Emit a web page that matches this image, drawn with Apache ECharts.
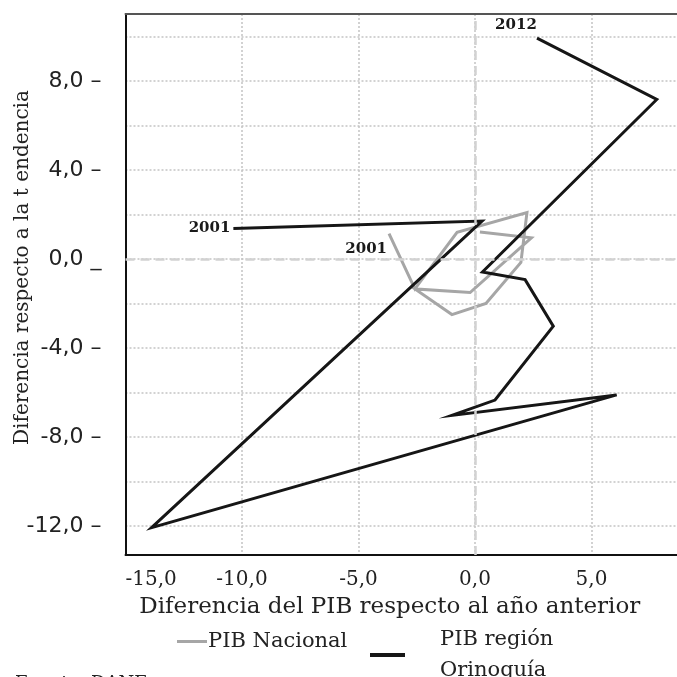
<!DOCTYPE html>
<html>
<head>
<meta charset="utf-8">
<script src="https://cdn.jsdelivr.net/npm/echarts@6/dist/echarts.min.js"></script>
<style>
html,body{margin:0;padding:0;background:#fff;}
#chart{width:677px;height:677px;}
</style>
</head>
<body>
<div id="chart"></div>
<script>
// ---- data ----
const seriesNames = ['PIB Nacional', 'PIB región Orinoquía'];
const nacionalX = [-3.69, -2.58, -0.77, 2.23, 1.97, 0.47, -0.99, -2.58, -0.21, 2.42, 0.21];
const nacionalY = [1.14, -1.35, 1.19, 2.08, -0.16, -2.00, -2.50, -1.35, -1.51, 0.95, 1.21];
const orinoquiaX = [-10.37, 0.30, -13.88, 6.08, -0.99, 0.86, 3.36, 2.15, 0.32, 7.80, 2.66];
const orinoquiaY = [1.37, 1.70, -12.07, -6.11, -7.03, -6.34, -3.02, -0.93, -0.59, 7.16, 9.92];
const startYear = '2001';
const endYear = '2012';
const xTitle = 'Diferencia del PIB respecto al año anterior';
const yTitle = 'Diferencia respecto a la t endencia';
const sourceText = 'Fuente: DANE';

const fmt = v => v.toFixed(1).replace('.', ',');
const pairs = (xs, ys) => xs.map((x, i) => [x, ys[i]]);

const yearLabel = {
  show: true, fontFamily: 'DejaVu Serif', fontWeight: 'bold', fontSize: 15, color: '#1a1a1a'
};

function buildData(xs, ys, firstLabel, lastLabel) {
  return pairs(xs, ys).map((p, i) => {
    const d = { value: p };
    if (i === 0 && firstLabel) d.label = Object.assign({}, yearLabel, { formatter: startYear }, firstLabel);
    if (i === xs.length - 1 && lastLabel) d.label = Object.assign({}, yearLabel, { formatter: endYear }, lastLabel);
    return d;
  });
}

const chart = echarts.init(document.getElementById('chart'), null, { renderer: 'canvas' });
chart.setOption({
  backgroundColor: '#ffffff',
  animation: false,
  title: {
    text: sourceText, left: 10, top: 670,
    textStyle: { fontFamily: 'DejaVu Serif', fontSize: 18, fontWeight: 'normal', color: '#222' }
  },
  grid: {
    left: 125.5, top: 14, right: -31, bottom: 122,
    outerBoundsMode: 'none', containLabel: false,
    show: false
  },
  legend: [
    {
      data: [seriesNames[0]], left: 172, top: 626, icon: 'rect', itemWidth: 30, itemHeight: 3,
      textStyle: { fontFamily: 'DejaVu Serif', fontSize: 21, color: '#222', padding: [0, 0, 0, -4] }
    },
    {
      data: [seriesNames[1]], left: 365, top: 617, icon: 'rect', itemWidth: 35, itemHeight: 4,
      formatter: () => 'PIB región\nOrinoquía',
      textStyle: { fontFamily: 'DejaVu Serif', fontSize: 21, color: '#222', lineHeight: 31, padding: [0, 0, 4, 30] }
    }
  ],
  xAxis: [
    {
      type: 'value', min: -15, max: 10, interval: 5,
      name: xTitle, nameLocation: 'middle', nameGap: 41, nameMoveOverlap: false,
      nameTextStyle: { fontFamily: 'DejaVu Serif', fontSize: 23, color: '#222', padding: [0, 54, 0, 0] },
      axisLine: { show: true, onZero: false, lineStyle: { color: '#111', width: 2 } },
      axisTick: { show: false },
      axisLabel: {
        fontFamily: 'DejaVu Serif', fontSize: 20, color: '#222', margin: 15,
        alignMinLabel: 'left', formatter: v => fmt(v)
      },
      splitLine: { show: true, lineStyle: { color: '#c4c4c4', width: 1.5, type: [2, 2] } }
    },
    {
      type: 'value', position: 'top', min: -15, max: 10, interval: 5, z: 5,
      axisLine: { show: true, onZero: false, lineStyle: { color: '#555', width: 2 } },
      axisTick: { show: false }, axisLabel: { show: false }, splitLine: { show: false }
    }
  ],
  yAxis: {
    type: 'value', min: -13.3, max: 11, splitNumber: 12,
    name: yTitle, nameLocation: 'middle', nameGap: 93, nameRotate: 90, nameMoveOverlap: false,
    nameTextStyle: { fontFamily: 'DejaVu Serif', fontSize: 20, color: '#222', padding: [0, 0, 0, 34] },
    axisLine: { show: true, onZero: false, lineStyle: { color: '#111', width: 2 } },
    axisTick: { show: false },
    axisLabel: {
      fontFamily: 'DejaVu Sans', fontSize: 22, color: '#222', margin: 24,
      showMinLabel: false, showMaxLabel: false,
      formatter: v => {
        if (Math.abs(v % 4) > 1e-6) return '';
        return fmt(v) + (v === 0 ? ' _' : ' –');
      }
    },
    splitLine: { show: true, lineStyle: { color: '#c4c4c4', width: 1.5, type: [2, 2] } }
  },
  series: [
    {
      name: 'zero', type: 'line', data: [[0, 0]], symbol: 'none', z: 1, silent: true,
      lineStyle: { width: 0 },
      markLine: {
        silent: true, symbol: 'none', label: { show: false },
        lineStyle: { color: '#d2d2d2', width: 2.5, type: [9, 6] },
        data: [{ xAxis: 0 }, { yAxis: 0 }]
      }
    },
    {
      name: seriesNames[0], type: 'line', z: 3,
      data: buildData(nacionalX, nacionalY, { position: 'left', distance: 2, offset: [0, 16] }, null),
      symbol: 'circle', symbolSize: 0, showSymbol: true, showAllSymbol: true, color: '#a6a6a6',
      lineStyle: { color: '#a6a6a6', width: 3, join: 'miter', miterLimit: 10 }
    },
    {
      name: seriesNames[1], type: 'line', z: 4,
      data: buildData(orinoquiaX, orinoquiaY, { position: 'left', distance: 3 }, { position: 'top', distance: 5, offset: [-21, 0] }),
      symbol: 'circle', symbolSize: 0, showSymbol: true, showAllSymbol: true, color: '#161616',
      lineStyle: { color: '#161616', width: 3, join: 'miter', miterLimit: 10 }
    }
  ]
});
</script>
</body>
</html>
